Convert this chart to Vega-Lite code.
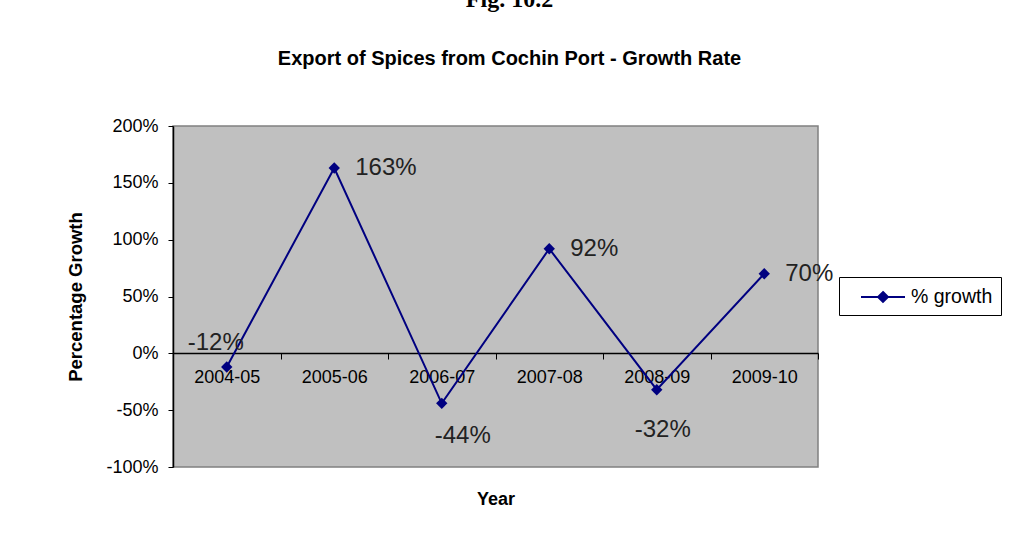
{
  "$schema": "https://vega.github.io/schema/vega-lite/v6.json",
  "width": 645,
  "height": 341,
  "autosize": "none",
  "padding": {"left": 173, "top": 126, "right": 207, "bottom": 89},
  "background": "white",
  "title": {
    "text": "Fig. 10.2",
    "subtitle": "Export of Spices from Cochin Port - Growth Rate",
    "anchor": "middle",
    "dx": 14,
    "font": "Liberation Serif",
    "fontWeight": "bold",
    "fontSize": 24,
    "color": "black",
    "subtitleFont": "Liberation Sans",
    "subtitleFontWeight": "bold",
    "subtitleFontSize": 20,
    "subtitleColor": "black",
    "subtitlePadding": 37,
    "offset": 48
  },
  "data": {
    "values": [
      {"year": "2004-05", "growth": -12, "label": "-12%"},
      {"year": "2005-06", "growth": 163, "label": "163%"},
      {"year": "2006-07", "growth": -44, "label": "-44%"},
      {"year": "2007-08", "growth": 92, "label": "92%"},
      {"year": "2008-09", "growth": -32, "label": "-32%"},
      {"year": "2009-10", "growth": 70, "label": "70%"}
    ]
  },
  "encoding": {
    "x": {
      "field": "year",
      "type": "nominal",
      "sort": null,
      "scale": {"type": "band", "paddingInner": 0, "paddingOuter": 0},
      "axis": {
        "title": "Year",
        "offset": -114,
        "tickBand": "extent",
        "labelAngle": 0,
        "domainColor": "black",
        "domainWidth": 1.5,
        "tickColor": "black",
        "tickSize": 6,
        "labelPadding": 9,
        "labelFont": "Liberation Sans",
        "labelFontSize": 18,
        "labelColor": "black",
        "titleFont": "Liberation Sans",
        "titleFontSize": 18,
        "titleFontWeight": "bold",
        "titleColor": "black",
        "titleY": 137
      }
    },
    "y": {
      "field": "growth",
      "type": "quantitative",
      "scale": {"domain": [-100, 200], "nice": false, "zero": false},
      "axis": {
        "title": "Percentage Growth",
        "values": [-100, -50, 0, 50, 100, 150, 200],
        "labelExpr": "datum.value + '%'",
        "grid": false,
        "domainColor": "black",
        "domainWidth": 1.5,
        "tickColor": "black",
        "tickSize": 5,
        "labelPadding": 10,
        "labelFont": "Liberation Sans",
        "labelFontSize": 18,
        "labelColor": "black",
        "titleFont": "Liberation Sans",
        "titleFontSize": 18.5,
        "titleFontWeight": "bold",
        "titleColor": "black",
        "titlePadding": 20
      }
    }
  },
  "layer": [
    {
      "mark": {"type": "line", "strokeWidth": 2},
      "encoding": {
        "color": {"datum": "% growth", "type": "nominal", "scale": {"range": ["#000080"]}}
      }
    },
    {
      "mark": {"type": "point", "shape": "diamond", "filled": true, "size": 130, "opacity": 1},
      "encoding": {
        "color": {"datum": "% growth", "type": "nominal", "scale": {"range": ["#000080"]}}
      }
    },
    {
      "transform": [{"filter": "datum.growth > 0"}],
      "mark": {"type": "text", "align": "left", "baseline": "middle", "dx": 21, "fontSize": 24, "font": "Liberation Sans", "color": "#222222"},
      "encoding": {"text": {"field": "label"}}
    },
    {
      "transform": [{"filter": "datum.year === '2006-07'"}],
      "mark": {"type": "text", "align": "center", "baseline": "middle", "dx": 21, "dy": 33, "fontSize": 24, "font": "Liberation Sans", "color": "#222222"},
      "encoding": {"text": {"field": "label"}}
    },
    {
      "transform": [{"filter": "datum.year === '2008-09'"}],
      "mark": {"type": "text", "align": "center", "baseline": "middle", "dx": 6, "dy": 40, "fontSize": 24, "font": "Liberation Sans", "color": "#222222"},
      "encoding": {"text": {"field": "label"}}
    },
    {
      "transform": [{"filter": "datum.year === '2004-05'"}],
      "mark": {"type": "text", "align": "center", "baseline": "middle", "dx": -11, "dy": -24, "fontSize": 24, "font": "Liberation Sans", "color": "#222222"},
      "encoding": {"text": {"field": "label"}}
    }
  ],
  "config": {
    "view": {"fill": "#C0C0C0", "stroke": "#808080", "strokeWidth": 1.5},
    "legend": {
      "orient": "none",
      "legendX": 666,
      "legendY": 151,
      "title": null,
      "strokeColor": "black",
      "fillColor": "white",
      "padding": 8,
      "symbolType": "M-2,0H2M0,-0.45L0.45,0L0,0.45L-0.45,0Z",
      "symbolSize": 484,
      "symbolFillColor": "#000080",
      "symbolStrokeColor": "#000080",
      "symbolStrokeWidth": 2,
      "symbolOffset": 24,
      "labelOffset": 16,
      "labelExpr": "datum.label + '  '",
      "labelFont": "Liberation Sans",
      "labelFontSize": 19.5,
      "labelColor": "black"
    }
  }
}
